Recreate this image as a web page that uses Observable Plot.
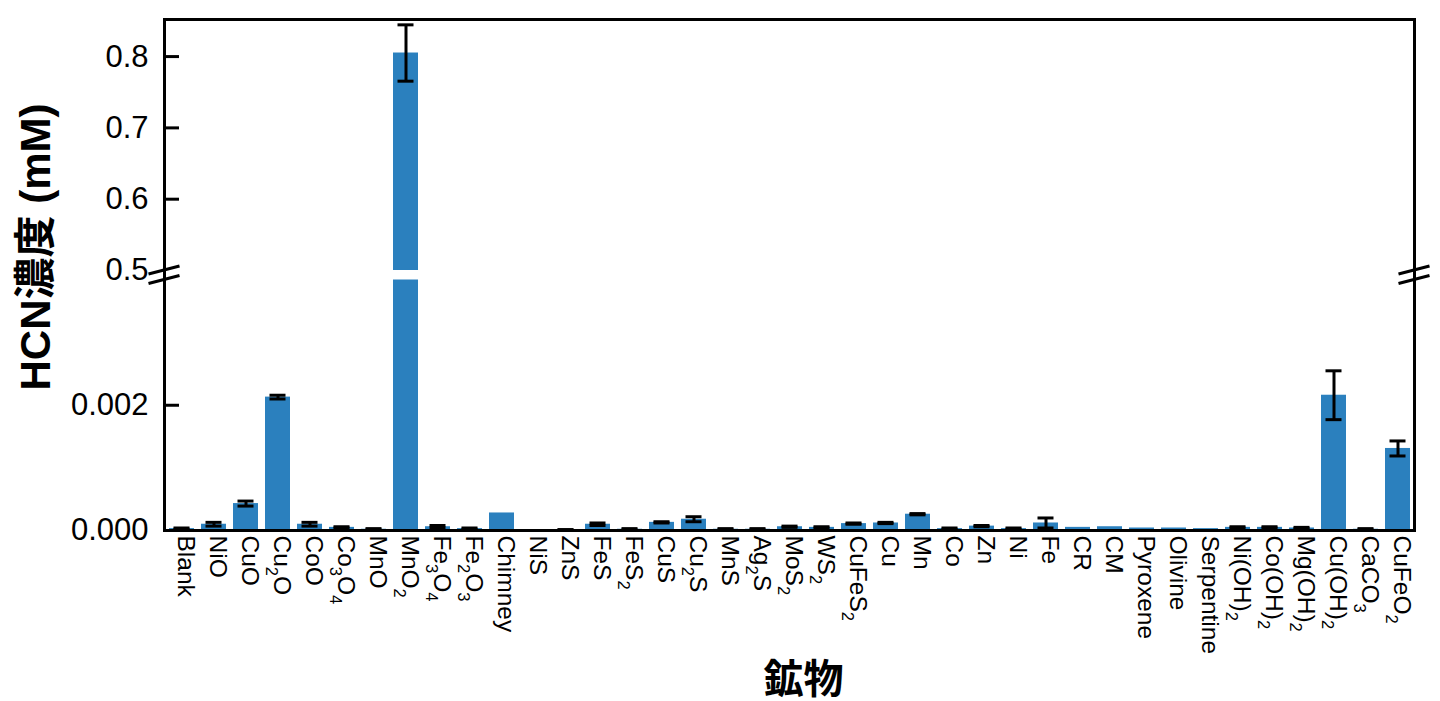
<!DOCTYPE html>
<html>
<head>
<meta charset="utf-8">
<script src="https://cdn.jsdelivr.net/npm/d3@7"></script>
<script src="https://cdn.jsdelivr.net/npm/@observablehq/plot@0.6"></script>
<style>
  html, body { margin: 0; padding: 0; background: #fff; }
  #chart svg { display: block; }
</style>
</head>
<body>
<div id="chart"></div>
<script>
// ---- data (HCN concentration, mM) ----
const categories = ["Blank","NiO","CuO","Cu2O","CoO","Co3O4","MnO","MnO2","Fe3O4","Fe2O3","Chimney",
  "NiS","ZnS","FeS","FeS2","CuS","Cu2S","MnS","Ag2S","MoS2","WS2","CuFeS2","Cu","Mn","Co","Zn","Ni","Fe",
  "CR","CM","Pyroxene","Olivine","Serpentine","Ni(OH)2","Co(OH)2","Mg(OH)2","Cu(OH)2","CaCO3","CuFeO2"];
const values = [0.00003,0.0001,0.00043,0.00213,0.0001,0.00005,0.00002,0.805,0.00006,0.00003,0.00028,
  0.00001,0.00001,0.0001,0.00002,0.00013,0.00018,0.00002,0.00002,0.00006,0.00005,0.00011,0.00012,0.00026,0.00003,0.00007,0.00003,0.00012,
  0.00005,0.00006,0.00004,0.00004,0.00003,0.00005,0.00005,0.00004,0.00216,0.00002,0.00131];
const errors = [0.00001,0.00003,0.00004,0.00003,0.00003,0.00001,0.00001,0.0395,0.00002,0.00001,0,
  0,0.000005,0.00002,0.00001,0.00001,0.00004,0.00001,0.00001,0.00001,0.00001,0.00001,0.00001,0.00001,0.00001,0.00001,0.00001,0.00008,
  0,0,0,0,0,0.00001,0.00001,0.00001,0.00039,0.00001,0.00012];
const yTicks = [0, 0.002, 0.5, 0.6, 0.7, 0.8];
const yInnerTicks = [0.002, 0.6, 0.7, 0.8];
const yDomain = [0, 0.004, 0.5, 0.852];   // broken axis: lower 0–0.004, upper 0.5–0.852
const yTitle = "HCN濃度 (mM)";
const xTitle = "鉱物";

const data = categories.map((c, i) => ({cat: c, value: values[i], err: errors[i]}));
const errData = data.filter(d => d.err > 0);
const tallData = data.filter(d => d.value > yDomain[2]);

const W = 1440, H = 701, ML = 164, MR = 26, MT = 19, MB = 171;
const barColor = "#2b80be";
const font = "'Liberation Sans', Arial, 'Noto Sans CJK JP', sans-serif";

const chart = Plot.plot({
  width: W, height: H,
  marginLeft: ML, marginRight: MR, marginTop: MT, marginBottom: MB,
  style: {fontFamily: font, background: "#fff", color: "#000"},
  x: {type: "band", domain: categories, paddingInner: 0.22, paddingOuter: 0.11},
  y: {type: "linear", domain: yDomain, range: [H - MB, H - MB - 250.5, H - MB - 260, MT]},
  marks: [
    Plot.barY(data, {x: "cat", y: "value", fill: barColor}),
    Plot.barY(tallData, {x: "cat", y1: yDomain[1], y2: yDomain[2], fill: "#fff", insetLeft: -1, insetRight: -1}),
    Plot.ruleX(errData, {x: "cat", y1: d => d.value - d.err, y2: d => d.value + d.err, stroke: "#000", strokeWidth: 3}),
    Plot.tickY(errData, {x: "cat", y: d => d.value - d.err, stroke: "#000", strokeWidth: 3, insetLeft: 4.5, insetRight: 4.5}),
    Plot.tickY(errData, {x: "cat", y: d => d.value + d.err, stroke: "#000", strokeWidth: 3, insetLeft: 4.5, insetRight: 4.5}),
    Plot.tickY(yInnerTicks, {y: d => d, stroke: "#000", strokeWidth: 3, insetRight: W - ML - MR - 15}),
    Plot.axisY({ticks: yTicks, tickSize: 0, tickPadding: 16, fontSize: 31, label: null,
      tickFormat: d => d < 0.1 ? d.toFixed(3) : d.toFixed(1)}),
    Plot.axisX({tickSize: 0, tickPadding: 5, tickRotate: 90, fontSize: 24.5, label: null, dx: 4}),
    Plot.frame({stroke: "#000", strokeWidth: 3}),
    Plot.text([yTitle], {text: d => d, frameAnchor: "left", rotate: -90, dx: -128, dy: -28,
      fontSize: 42, fontWeight: "bold", textAnchor: "middle"}),
    Plot.text([xTitle], {text: d => d, frameAnchor: "bottom", dx: 14, dy: 162,
      fontSize: 40, fontWeight: "bold", textAnchor: "middle"})
  ]
});

// chemical-formula subscripts on x tick labels
const svgns = "http://www.w3.org/2000/svg";
d3.select(chart).selectAll('g[aria-label="x-axis tick label"] text').each(function() {
  const s = this.textContent;
  if (!/\d/.test(s)) return;
  this.textContent = "";
  let down = false;
  for (const p of s.match(/\d+|\D+/g)) {
    const t = document.createElementNS(svgns, "tspan");
    if (/\d/.test(p)) {
      t.setAttribute("font-size", "16.5");
      t.setAttribute("dy", "8");
      down = true;
    } else if (down) {
      t.setAttribute("dy", "-8");
      down = false;
    }
    t.textContent = p;
    this.appendChild(t);
  }
});

// axis-break marks
const ys = chart.scale("y");
const yA = ys.apply(yDomain[2]), yB = ys.apply(yDomain[1]);
const g = d3.select(chart).append("g").attr("stroke", "#000").attr("stroke-width", 3);
for (const x of [ML, W - MR]) {
  for (const yy of [yA, yB]) {
    g.append("line").attr("x1", x - 15.5).attr("y1", yy + 4).attr("x2", x + 15.5).attr("y2", yy - 4);
  }
}

document.getElementById("chart").appendChild(chart);
</script>
</body>
</html>
